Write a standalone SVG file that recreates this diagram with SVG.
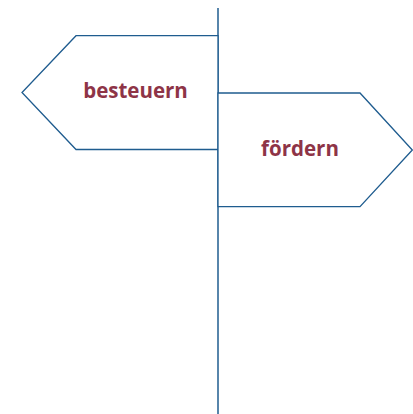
<svg xmlns="http://www.w3.org/2000/svg" width="413" height="414" viewBox="0 0 413 414">
<style>
.sign{fill:#ffffff;stroke:#1f5c8f;stroke-width:1.3;stroke-linejoin:miter}
.post{stroke:#1f5c8f;stroke-width:1.5;fill:none}
.lbl{font-family:"Open Sans",sans-serif;font-weight:bold;font-size:20.5px;fill:#8e3447;text-anchor:middle}
</style>
<rect width="413" height="414" fill="#ffffff"/>
<g id="connectors">
<line class="post" x1="218" y1="8" x2="218" y2="414"/>
</g>
<g id="besteuern">
<polygon class="sign" points="218,35.7 76,35.7 22,92.5 76,149.5 218,149.5"/>
<text class="lbl" x="135.5" y="98">besteuern</text>
</g>
<g id="foerdern">
<polygon class="sign" points="218,93 360,93 412.3,150 360,206.7 218,206.7"/>
<text class="lbl" x="300" y="156">fördern</text>
</g>
</svg>
